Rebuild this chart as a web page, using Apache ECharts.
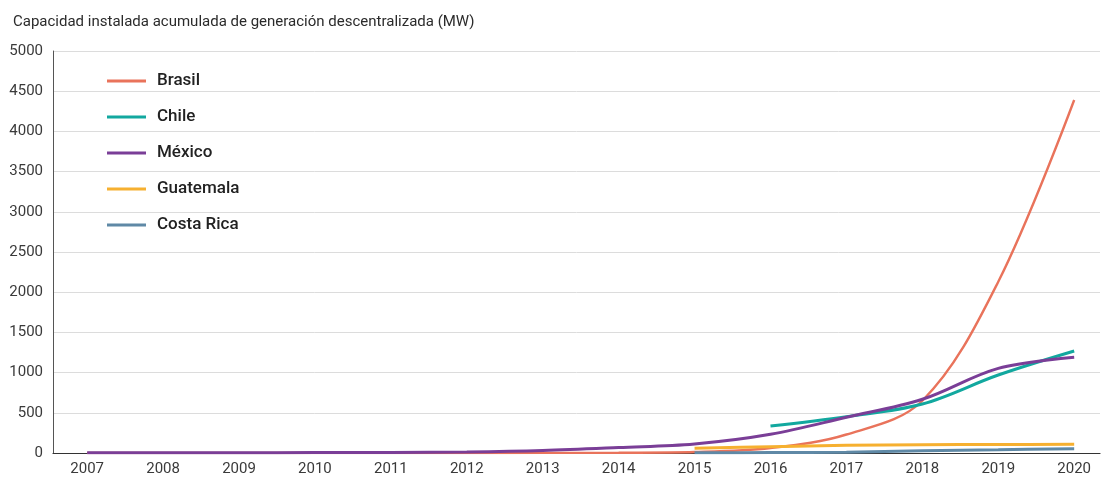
<!DOCTYPE html>
<html>
<head>
<meta charset="utf-8">
<script src="https://cdn.jsdelivr.net/npm/echarts@6/dist/echarts.min.js"></script>
<style>
  html, body { margin: 0; padding: 0; background: #fff; }
  #chart { width: 1102px; height: 483px; }
</style>
</head>
<body>
<div id="chart"></div>
<script>
// Cumulative installed distributed-generation capacity (MW), by year
const years = [2007, 2008, 2009, 2010, 2011, 2012, 2013, 2014, 2015, 2016, 2017, 2018, 2019, 2020];
const brasil     = [0, 0, 0, 0, 0, 0, 1, 3, 12, 62, 230, 650, 2130, 4390];
const chile      = [null, null, null, null, null, null, null, null, null, 336, 452, 609, 970, 1269];
const mexico     = [2, 3, 4, 5, 7, 13, 31, 68, 112, 232, 444, 668, 1053, 1190];
const guatemala  = [null, null, null, null, null, null, null, null, 58, 78, 96, 104, 106, 108];
const costaRica  = [null, null, null, null, null, null, null, null, 2, 5, 10, 29, 41, 54];
const yTicks = { min: 0, max: 5000, step: 500 };

const pairs = arr => years.map((y, i) => [y, arr[i]]);

const seriesDefs = [
  { name: 'Brasil',     data: brasil,    color: '#E9735B', width: 2.4 },
  { name: 'Chile',      data: chile,     color: '#12A89F', width: 3 },
  { name: 'Guatemala',  data: guatemala, color: '#F6B030', width: 3 },
  { name: 'Costa Rica', data: costaRica, color: '#5F89A6', width: 3 },
  { name: 'México',     data: mexico,    color: '#7A3E97', width: 3 }
];

const chart = echarts.init(document.getElementById('chart'), null, { renderer: 'canvas' });

chart.setOption({
  animation: false,
  backgroundColor: '#fff',
  textStyle: { fontFamily: 'Roboto, sans-serif' },
  title: {
    text: 'Capacidad instalada acumulada de generación descentralizada (MW)',
    left: 8,
    top: 10,
    textStyle: { fontSize: 15, fontWeight: 'normal', color: '#2b2b2b', fontFamily: 'Roboto' }
  },
  legend: {
    orient: 'vertical',
    left: 107,
    top: 71,
    padding: 0,
    itemWidth: 39,
    itemHeight: 3,
    itemGap: 16,
    icon: 'rect',
    data: ['Brasil', 'Chile', 'México', 'Guatemala', 'Costa Rica'],
    textStyle: { fontSize: 17, fontWeight: 500, color: '#222', lineHeight: 20, padding: [0, 0, 0, 6], fontFamily: 'Roboto' }
  },
  grid: { left: 53, right: 2, top: 51, bottom: 30 },
  xAxis: {
    type: 'value',
    min: 2006.55,
    max: 2020.34,
    axisLine: { show: true, onZero: false, lineStyle: { color: '#333', width: 1.2 } },
    axisTick: { show: false },
    splitLine: { show: false },
    axisLabel: {
      customValues: years,
      formatter: v => String(v),
      fontSize: 15,
      color: '#3a3a3a',
      margin: 9
    }
  },
  yAxis: {
    type: 'value',
    min: yTicks.min,
    max: yTicks.max,
    interval: yTicks.step,
    axisLine: { show: true, lineStyle: { color: '#555', width: 1 } },
    axisTick: { show: false },
    splitLine: { show: true, lineStyle: { color: '#dcdcdc', width: 1 } },
    axisLabel: { fontSize: 15, color: '#3a3a3a', margin: 10, formatter: v => String(v) }
  },
  series: seriesDefs.map(s => ({
    name: s.name,
    type: 'line',
    data: pairs(s.data),
    smooth: 0.35,
    showSymbol: false,
    connectNulls: false,
    color: s.color,
    lineStyle: { color: s.color, width: s.width },
    itemStyle: { color: s.color }
  }))
});
</script>
</body>
</html>
